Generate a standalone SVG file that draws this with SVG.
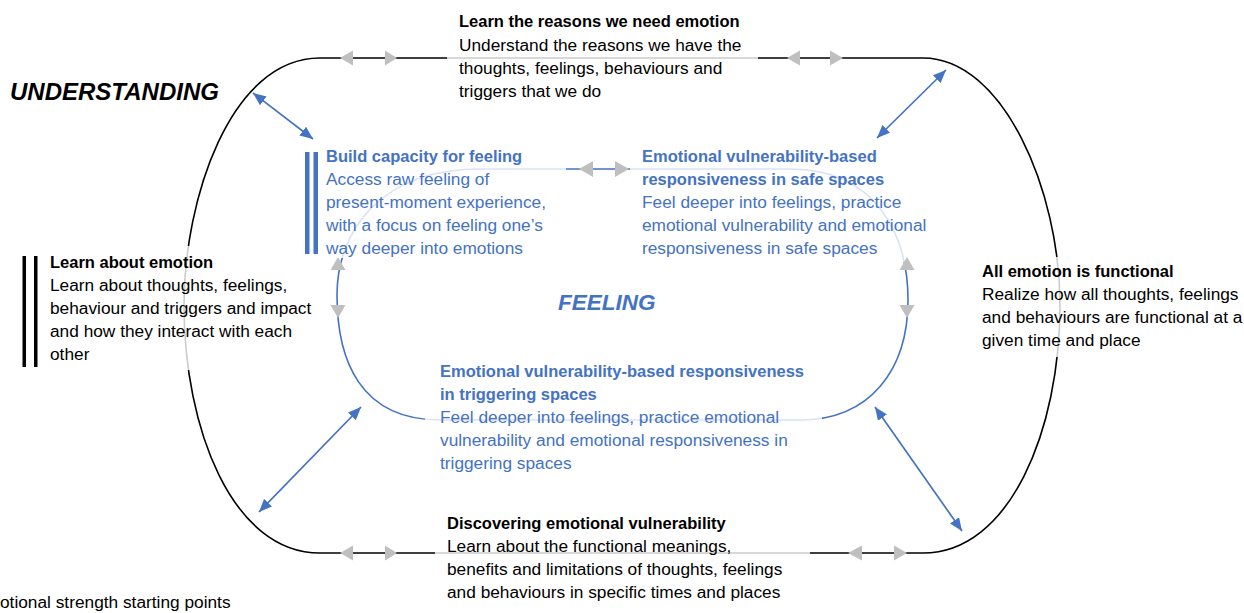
<svg xmlns="http://www.w3.org/2000/svg" width="1244" height="613" viewBox="0 0 1244 613">
<defs>
<style>
text{font-family:"Liberation Sans",Arial,sans-serif;}
.b{font-weight:bold;font-size:16.5px;}
.r{font-size:17.3px;}
.k{fill:#000;}
.bl{fill:#4472C4;}
.hd{font-weight:bold;font-style:italic;}
.mask{fill:#fff;fill-opacity:0.8;}
.outer{fill:none;stroke:#000;stroke-width:1.6;}
.inner{fill:none;stroke:#4472C4;stroke-width:1.6;}
.ga{fill:#BFBFBF;}
.ba{stroke:#4472C4;stroke-width:1.7;fill:none;marker-start:url(#ah);marker-end:url(#ah);}
</style>
<marker id="ah" viewBox="0 0 13 11" refX="13" refY="5.5" markerWidth="13" markerHeight="11" markerUnits="userSpaceOnUse" orient="auto-start-reverse">
<path d="M0,0 L13,5.5 L0,11 Z" fill="#4472C4"/>
</marker>
</defs>

<g id="loops">
<path class="outer" d="M320,58 L923,58 C1003,58 1060,190 1060,305 C1060,430 1010,553 923,553 L320,553 C232,553 184,428 184,305 C184,200 230,58 320,58 Z"/>
<path class="inner" d="M480,169 L790,169 C880,169 908,240 908,300 C908,370 870,420 800,420 L440,420 C360,420 337,360 337,295 C337,230 382,169 480,169 Z"/>
</g>

<g id="masks">
<rect class="mask" x="447" y="6" width="311" height="98"/>
<rect class="mask" x="18" y="246" width="302" height="124"/>
<rect class="mask" x="972" y="257" width="272" height="100"/>
<rect class="mask" x="435" y="509" width="375" height="104"/>
<rect class="mask" x="300" y="145" width="266" height="113"/>
<rect class="mask" x="630" y="145" width="310" height="117"/>
<rect class="mask" x="425" y="358" width="397" height="117"/>
</g>

<g id="connectors">
<line class="ba" x1="253" y1="93" x2="313" y2="139"/>
<line class="ba" x1="946" y1="70" x2="877" y2="138"/>
<line class="ba" x1="361" y1="407" x2="259" y2="512"/>
<line class="ba" x1="875" y1="407" x2="962" y2="531"/>
<polygon class="ga" points="340,58 353,50.5 353,65.5"/>
<polygon class="ga" points="397,58 385,50.5 385,65.5"/>
<polygon class="ga" points="787,58 800,50.5 800,65.5"/>
<polygon class="ga" points="843,58 830,50.5 830,65.5"/>
<polygon class="ga" points="340,553 353,545.5 353,560.5"/>
<polygon class="ga" points="397,553 385,545.5 385,560.5"/>
<polygon class="ga" points="848,553 862,545.5 862,560.5"/>
<polygon class="ga" points="907,553 894,545.5 894,560.5"/>
<polygon class="ga" points="579,169 593,161 593,177"/>
<polygon class="ga" points="629,169 615,161 615,177"/>
<polygon class="ga" points="338,257 330.5,270 345.5,270"/>
<polygon class="ga" points="338,318 330.5,305 345.5,305"/>
<polygon class="ga" points="907,257 899.5,270 914.5,270"/>
<polygon class="ga" points="907,318 899.5,305 914.5,305"/>
</g>

<g id="understanding-label">
<text class="hd k" x="10" y="100" font-size="24">UNDERSTANDING</text>
</g>

<g id="feeling-label">
<text class="hd bl" x="558" y="310" font-size="22.5">FEELING</text>
</g>

<g id="node-reasons">
<text class="b k" x="459" y="27">Learn the reasons we need emotion</text>
<text class="r k" x="459" y="50.5">Understand the reasons we have the</text>
<text class="r k" x="459" y="73.5">thoughts, feelings, behaviours and</text>
<text class="r k" x="459" y="96.5">triggers that we do</text>
</g>

<g id="node-learn-about">
<rect x="22.5" y="256" width="3.5" height="111" fill="#000"/>
<rect x="34" y="256" width="3.5" height="111" fill="#000"/>
<text class="b k" x="50" y="268">Learn about emotion</text>
<text class="r k" x="50" y="291">Learn about thoughts, feelings,</text>
<text class="r k" x="50" y="314">behaviour and triggers and impact</text>
<text class="r k" x="50" y="337">and how they interact with each</text>
<text class="r k" x="50" y="360">other</text>
</g>

<g id="node-functional">
<text class="b k" x="982" y="277">All emotion is functional</text>
<text class="r k" x="982" y="300">Realize how all thoughts, feelings</text>
<text class="r k" x="982" y="323">and behaviours are functional at a</text>
<text class="r k" x="982" y="346">given time and place</text>
</g>

<g id="node-discovering">
<text class="b k" x="447" y="529">Discovering emotional vulnerability</text>
<text class="r k" x="447" y="552">Learn about the functional meanings,</text>
<text class="r k" x="447" y="575">benefits and limitations of thoughts, feelings</text>
<text class="r k" x="447" y="598">and behaviours in specific times and places</text>
</g>

<g id="node-build">
<rect x="305" y="152" width="4.5" height="102" fill="#4472C4"/>
<rect x="313.5" y="152" width="4.5" height="102" fill="#4472C4"/>
<text class="b bl" x="326" y="162">Build capacity for feeling</text>
<text class="r bl" x="326" y="185">Access raw feeling of</text>
<text class="r bl" x="326" y="208">present-moment experience,</text>
<text class="r bl" x="326" y="231">with a focus on feeling one’s</text>
<text class="r bl" x="326" y="254">way deeper into emotions</text>
</g>

<g id="node-safe">
<text class="b bl" x="642" y="162">Emotional vulnerability-based</text>
<text class="b bl" x="642" y="185">responsiveness in safe spaces</text>
<text class="r bl" x="642" y="208">Feel deeper into feelings, practice</text>
<text class="r bl" x="642" y="231">emotional vulnerability and emotional</text>
<text class="r bl" x="642" y="254">responsiveness in safe spaces</text>
</g>

<g id="node-triggering">
<text class="b bl" x="440" y="377">Emotional vulnerability-based responsiveness</text>
<text class="b bl" x="440" y="400">in triggering spaces</text>
<text class="r bl" x="440" y="423">Feel deeper into feelings, practice emotional</text>
<text class="r bl" x="440" y="446">vulnerability and emotional responsiveness in</text>
<text class="r bl" x="440" y="469">triggering spaces</text>
</g>

<g id="caption">
<text class="r k" x="0" y="608">otional strength starting points</text>
</g>
</svg>
